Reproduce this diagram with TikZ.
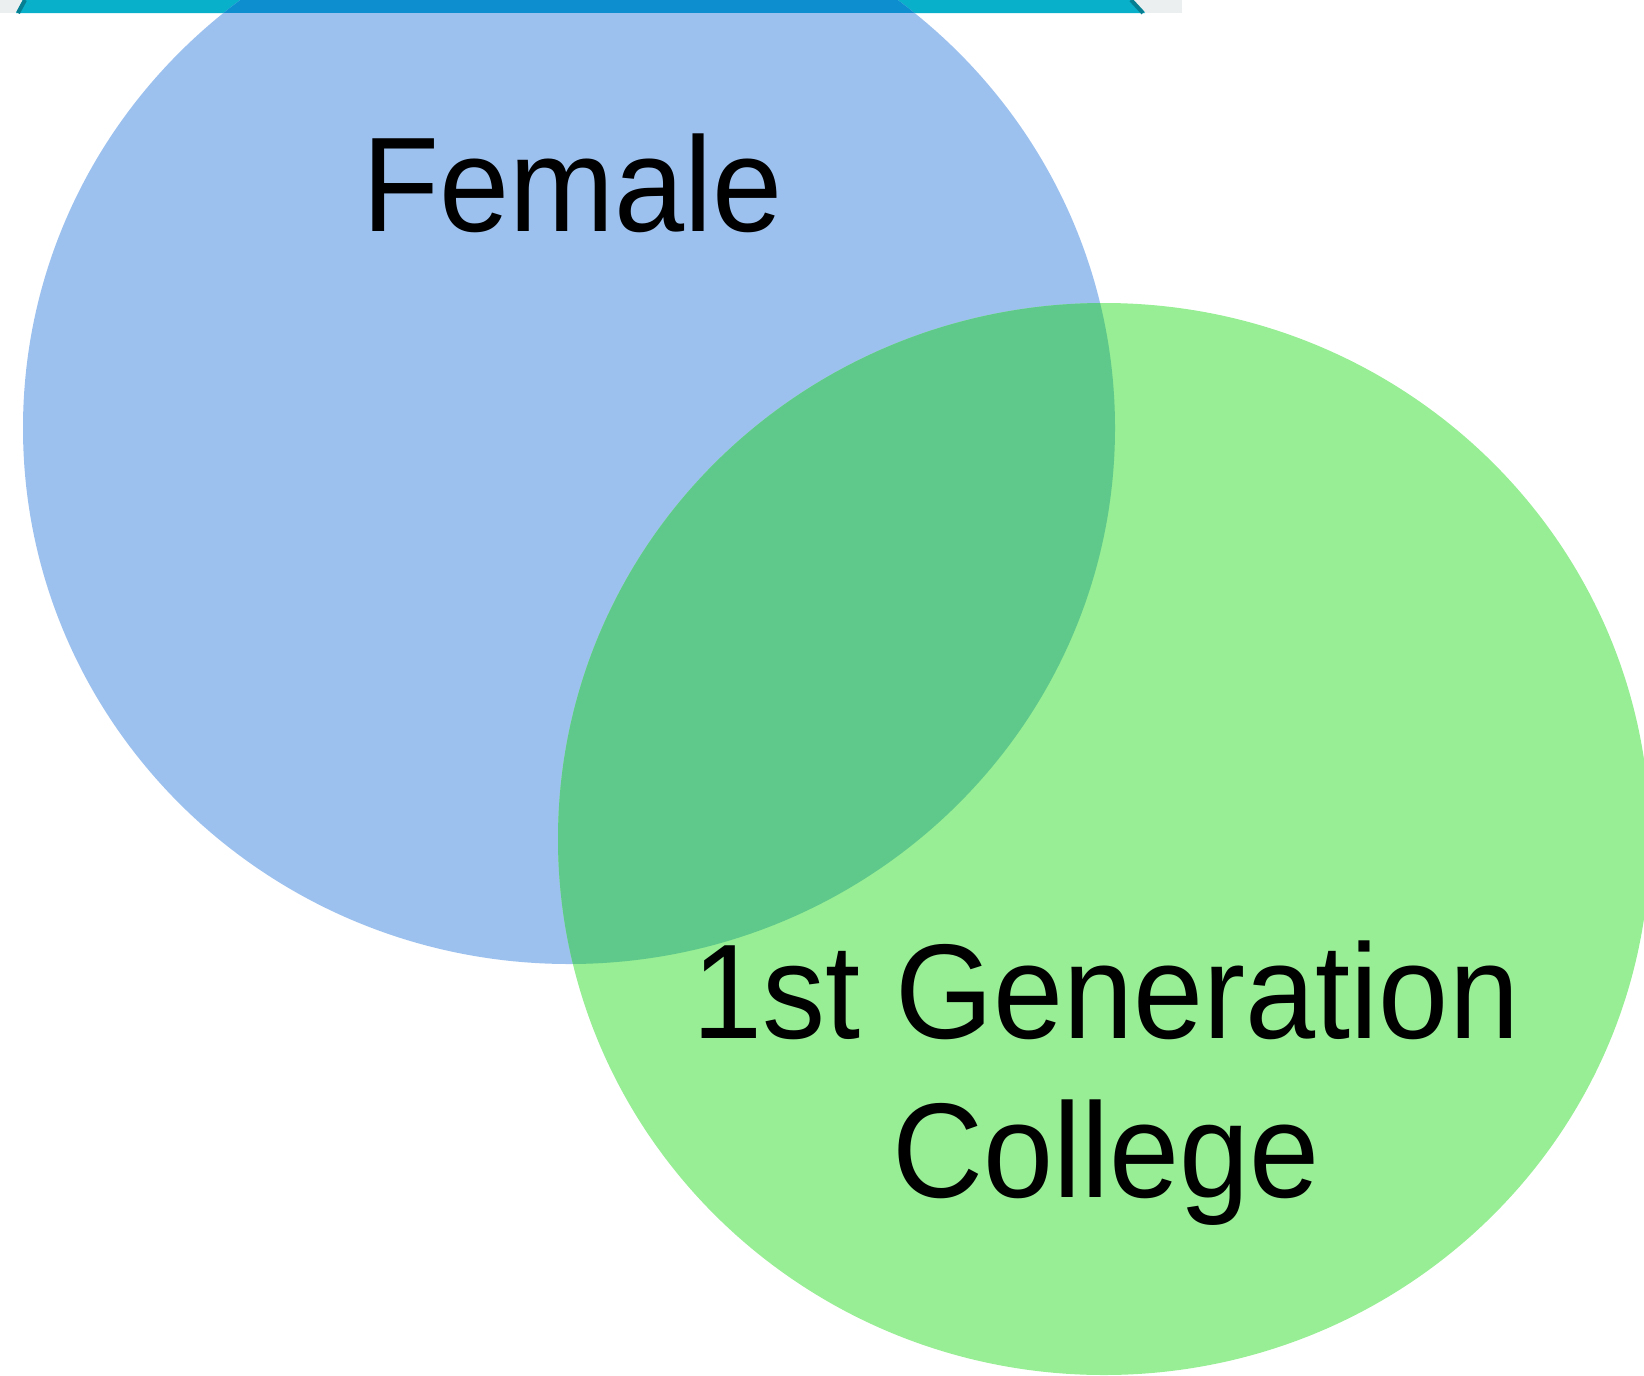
\documentclass[tikz,border=0pt]{standalone}
\usepackage{fontspec}
\setmainfont{Liberation Sans}
\definecolor{setblue}{HTML}{9DC1EE}
\definecolor{setgreen}{HTML}{97EE94}
\definecolor{setboth}{HTML}{5EC98A}
\definecolor{stripteal}{HTML}{08B0C9}
\definecolor{stripedge}{HTML}{067F92}
\definecolor{stripdark}{HTML}{0C8ECF}
\definecolor{stripgrey}{HTML}{EBEFEF}
\tikzset{
  setlabel/.style={inner sep=0pt, anchor=base, font=\fontsize{126}{159}\selectfont, text=black}
}
\newcommand{\tallsc}[1]{\scalebox{1}[1.07]{#1}}
\begin{document}
\begin{tikzpicture}[x=1pt,y=-1pt]
\useasboundingbox (0,0) rectangle (1644,1376);
\clip (0,0) rectangle (1644,1376);
% top strip
\fill[stripgrey] (0,0) rectangle (1182,13);
\fill[stripteal] (23,0) -- (1132,0) -- (1145,13) -- (16,13) -- cycle;
\draw[stripedge, line width=4pt] (25,0) -- (18,13);
\draw[stripedge, line width=4pt] (1131,0) -- (1143,13);
% sets
\fill[setblue] (569,428) ellipse [x radius=546, y radius=536];
\fill[setgreen] (1104,839) ellipse [x radius=546, y radius=536];
\begin{scope}
  \clip (569,428) ellipse [x radius=546, y radius=536];
  \fill[setboth] (1104,839) ellipse [x radius=546, y radius=536];
  \fill[stripdark] (0,0) rectangle (1644,13);
\end{scope}
% labels
\node[setlabel] (female) at (573,231) {\tallsc{Female}};
\node[setlabel] (gen1) at (1106,1038) {\tallsc{1st Generation}};
\node[setlabel] (gen2) at (1106,1197) {\tallsc{College}};
\end{tikzpicture}
\end{document}
